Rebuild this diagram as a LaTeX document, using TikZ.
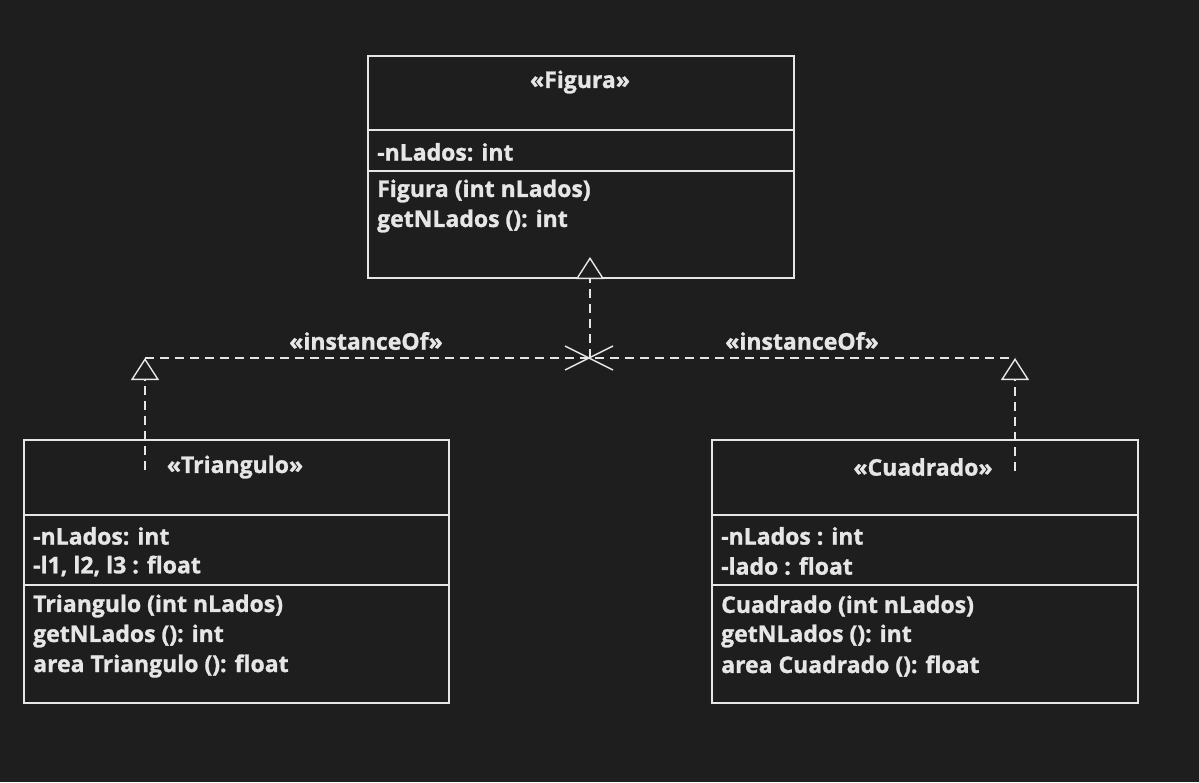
\documentclass[tikz,border=0pt]{standalone}
\usepackage{fontspec}
\setmainfont{Open Sans}[FakeBold=1.2]
\usetikzlibrary{arrows.meta}
\definecolor{bg}{HTML}{1E1E1E}
\definecolor{fg}{HTML}{E6E6E6}
\begin{document}
\begin{tikzpicture}[x=1pt,y=-1pt,
  box/.style={draw=fg,line width=1.6pt,anchor=north west,inner sep=0pt},
  txt/.style={text=fg,anchor=west,inner sep=0pt,font=\fontsize{23}{27}\bfseries},
  ctxt/.style={text=fg,anchor=center,inner sep=0pt,font=\fontsize{23}{27}\bfseries},
  dline/.style={draw=fg,line width=1.4pt,dash pattern=on 9pt off 6pt},
  realz/.style={-{Triangle[open,length=22pt,width=28pt,line width=1.4pt,fill=bg]}},
]
\fill[bg] (0,0) rectangle (1199,782);
\useasboundingbox (0,0) rectangle (1199,782);

% Figura
\node[box,minimum width=426pt,minimum height=222pt] (fig) at (367,55) {};
\draw[fg,line width=1.6pt] (367,130) -- (793,130);
\draw[fg,line width=1.6pt] (367,171) -- (793,171);
\node[ctxt] (figt) at (580,82) {«Figura»};
\node[txt] (fa1) at (377,152) {-nLados: int};
\node[txt] (fm1) at (377,191) {Figura (int nLados)};
\node[txt] (fm2) at (377,221) {getNLados (): int};

% Triangulo
\node[box,minimum width=425pt,minimum height=263pt] (tri) at (23,439) {};
\draw[fg,line width=1.6pt] (23,515) -- (448,515);
\draw[fg,line width=1.6pt] (23,585) -- (448,585);
\node[ctxt] (trit) at (235,467) {«Triangulo»};
\node[txt] (ta1) at (33,536) {-nLados: int};
\node[txt] (ta2) at (33,566) {-l1, l2, l3 : float};
\node[txt] (tm1) at (33,606) {Triangulo (int nLados)};
\node[txt] (tm2) at (33,636) {getNLados (): int};
\node[txt] (tm3) at (33,666) {area Triangulo (): float};

% Cuadrado
\node[box,minimum width=426pt,minimum height=263pt] (cua) at (711,439) {};
\draw[fg,line width=1.6pt] (711,515) -- (1137,515);
\draw[fg,line width=1.6pt] (711,585) -- (1137,585);
\node[ctxt] (cuat) at (923,467) {«Cuadrado»};
\node[txt] (ca1) at (721,536) {-nLados : int};
\node[txt] (ca2) at (721,566) {-lado : float};
\node[txt] (cm1) at (721,606) {Cuadrado (int nLados)};
\node[txt] (cm2) at (721,636) {getNLados (): int};
\node[txt] (cm3) at (721,666) {area Cuadrado (): float};

% connector points
\coordinate (j) at (590,358);
\coordinate (ftip) at (590,257);
\coordinate (lt) at (145,358);
\coordinate (rt) at (1015,358);
\coordinate (ls) at (145,470);
\coordinate (rs) at (1015,471);

\draw[dline] (lt) -- (rt);
\draw[dline,realz] (j) -- (ftip);
\draw[dline,realz] (ls) -- (lt);
\draw[dline,realz] (rs) -- (rt);
\draw[fg,line width=1.4pt] (565,346) -- (613,370) (565,370) -- (613,346);

\node[ctxt] (lab1) at (366,341) {«instanceOf»};
\node[ctxt] (lab2) at (802,341) {«instanceOf»};
\end{tikzpicture}
\end{document}
